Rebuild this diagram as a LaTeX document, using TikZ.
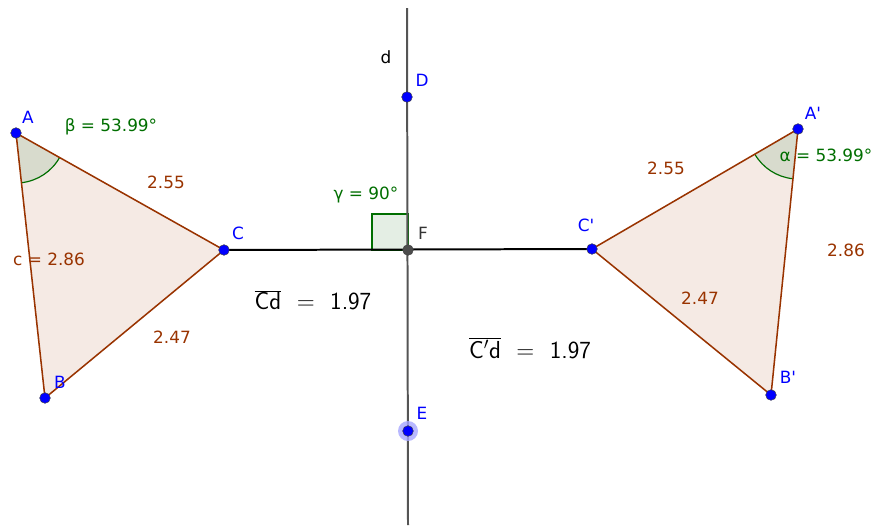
\documentclass[tikz,border=0pt]{standalone}
\usepackage{fontspec}
\setmainfont{DejaVu Sans}
\usepackage{tikz}
\usetikzlibrary{angles,calc}
\definecolor{ptblue}{RGB}{0,0,255}
\definecolor{segbrown}{RGB}{153,51,0}
\definecolor{anggreen}{RGB}{0,110,0}
\definecolor{trifill}{RGB}{245,234,228}
\definecolor{angfill}{RGB}{216,219,205}
\definecolor{rtfill}{RGB}{228,238,228}
\definecolor{linegray}{RGB}{85,85,85}
\newcommand{\sfbar}[1]{$\overline{\hbox{\sffamily #1}}$}

\begin{document}
\begin{tikzpicture}[x=0.03cm, y=-0.03cm,
    pt/.style={circle, fill=ptblue, draw=black!75, line width=0.4pt, inner sep=0pt, minimum size=0.32cm},
    ptlbl/.style={text=ptblue, font=\fontsize{14.4}{16}\selectfont},
    seglbl/.style={text=segbrown, font=\fontsize{14.4}{16}\selectfont},
    anglbl/.style={text=anggreen, font=\fontsize{14.4}{16}\selectfont},
    dist/.style={font=\fontsize{21}{24}\selectfont\sffamily},
    side/.style={draw=segbrown, line width=1.3pt},
    angmark/.style={draw=anggreen, fill=angfill, line width=1pt, angle radius=1.5cm}]
    \useasboundingbox (0,0) rectangle (873,525);

    % Points
    \coordinate (A) at (16,133);
    \coordinate (B) at (45,398);
    \coordinate (C) at (224,250);
    \coordinate (A') at (798,129);
    \coordinate (B') at (771,395);
    \coordinate (C') at (592,249);
    \coordinate (D) at (407,97);
    \coordinate (F) at (408,250);
    \coordinate (E) at (408,431);
    \coordinate (dtop) at (407,8);
    \coordinate (dbot) at (408,525);

    % Triangles
    \fill[trifill] (A) -- (B) -- (C) -- cycle;
    \fill[trifill] (A') -- (B') -- (C') -- cycle;
    \pic[angmark] {angle = B--A--C};
    \pic[angmark] {angle = C'--A'--B'};
    \draw[side] (A) -- (B);
    \draw[side] (B) -- (C);
    \draw[side] (C) -- (A);
    \draw[side] (A') -- (B');
    \draw[side] (B') -- (C');
    \draw[side] (C') -- (A');

    % Right angle and lines
    \filldraw[fill=rtfill, draw=anggreen, line width=1.2pt] (F) rectangle ++(-36,-36);
    \draw[linegray, line width=1.7pt] (dtop) -- (dbot);
    \draw[black, line width=1.7pt] (C) -- (C');

    % Point marks
    \fill[ptblue!35, opacity=0.8] (E) circle (10);
    \node[pt] (pA) at (A) {};
    \node[pt] (pB) at (B) {};
    \node[pt] (pC) at (C) {};
    \node[pt] (pA') at (A') {};
    \node[pt] (pB') at (B') {};
    \node[pt] (pC') at (C') {};
    \node[pt] (pD) at (D) {};
    \node[pt] (pE) at (E) {};
    \node[pt, fill=black!70] (pF) at (F) {};

    % Labels
    \node[ptlbl] (lA) at (28,117) {A};
    \node[ptlbl] (lB) at (60,382) {B};
    \node[ptlbl] (lC) at (238,233) {C};
    \node[ptlbl] (lD) at (422,80) {D};
    \node[ptlbl] (lE) at (422,413) {E};
    \node[ptlbl] (lA') at (813,113) {A\textquotesingle};
    \node[ptlbl] (lB') at (788,377) {B\textquotesingle};
    \node[ptlbl] (lC') at (586,225) {C\textquotesingle};
    \node[text=black!80, font=\fontsize{14.4}{16}\selectfont] (lF) at (423,233) {F};
    \node[font=\fontsize{14.4}{16}\selectfont] (ld) at (386,57) {d};
    \node[anglbl] (beta) at (111,127) {β = 53.99°};
    \node[anglbl] (alpha) at (826,155) {α = 53.99°};
    \node[anglbl] (gamma) at (366,195) {γ = 90°};
    \node[seglbl] (sAC) at (166,182) {2.55};
    \node[seglbl] (sAB) at (49,259) {c = 2.86};
    \node[seglbl] (sBC) at (172,337) {2.47};
    \node[seglbl] (sAC') at (666,168) {2.55};
    \node[seglbl] (sAB') at (846,250) {2.86};
    \node[seglbl] (sBC') at (700,298) {2.47};
    \node[dist] (dC) at (313,300) {\sfbar{Cd}\ \ =\ \ 1.97};
    \node[dist] (dC') at (530,348) {\sfbar{C$'$d}\ \ =\ \ 1.97};
\end{tikzpicture}
\end{document}
